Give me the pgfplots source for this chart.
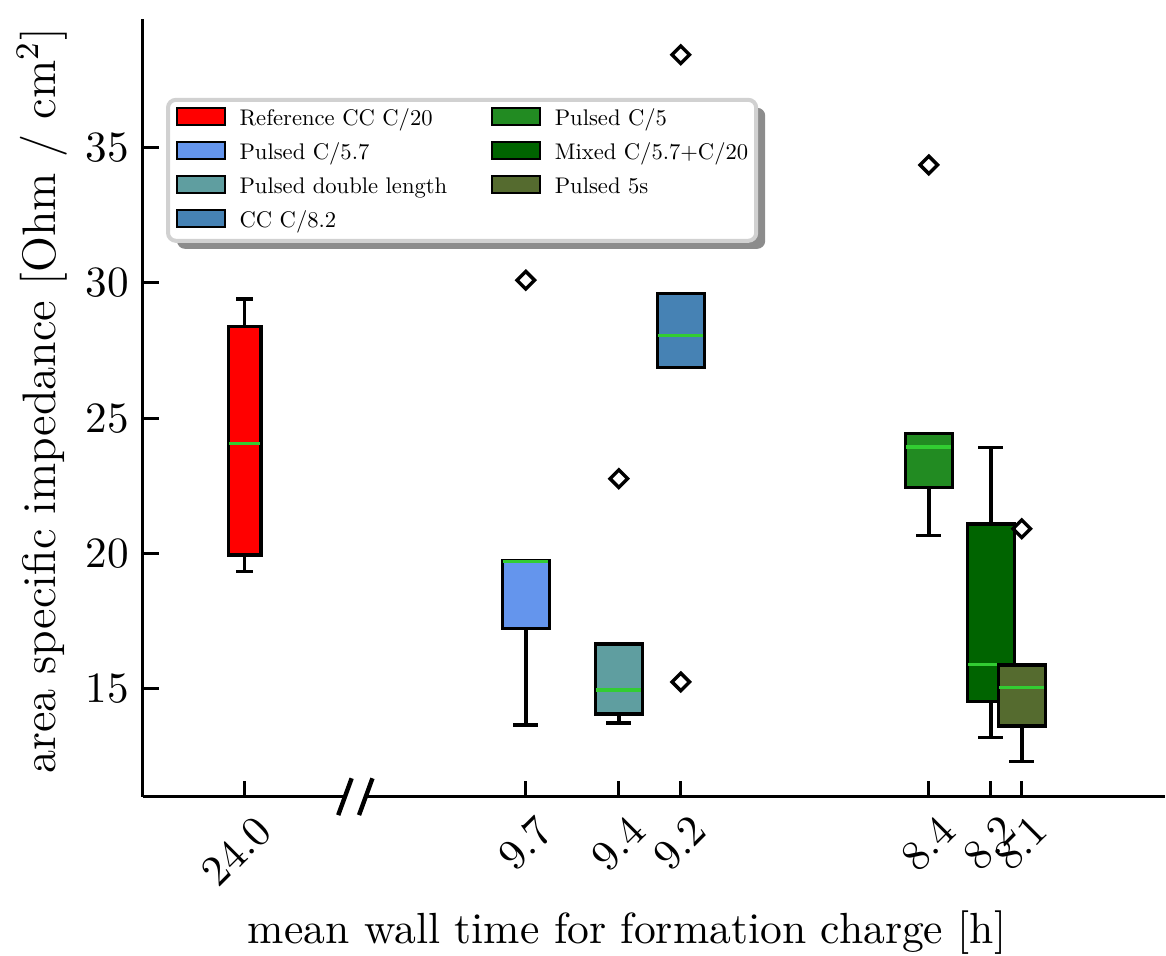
\documentclass[border=0pt]{standalone}
\usepackage{graphicx}
\usepackage{pgfplots}
\pgfplotsset{compat=1.18}
\usetikzlibrary{shadows,calc}
\definecolor{cref}{RGB}{255,0,0}
\definecolor{cpa}{RGB}{100,149,237}
\definecolor{cdbl}{RGB}{95,158,160}
\definecolor{ccc}{RGB}{70,130,180}
\definecolor{cpb}{RGB}{34,139,34}
\definecolor{cmix}{RGB}{0,100,0}
\definecolor{cps}{RGB}{85,107,47}
\definecolor{cmed}{RGB}{50,205,50}
\pgfplotsset{
  whisk/.style={black, line width=0.85pt, forget plot, mark=none},
  boxs/.style={draw=black, fill=#1, line width=0.85pt, forget plot, mark=none},
  med/.style={draw=cmed, line width=0.8pt, forget plot, mark=none},
  outl/.style={only marks, forget plot, mark=square, mark size=1.55pt,
    mark options={rotate=45, draw=black, fill=white, line width=0.85pt, solid}},
  legimg/.style={legend image code/.code={\node[draw=black, fill=#1, line width=0.5pt, sharp corners,
      inner sep=0pt, text height=0pt, text depth=0pt, minimum width=12pt, minimum height=4.15pt,
      anchor=south west] at (0pt,-1.5pt) {};}},
}
\newcommand{\lt}[1]{\scalebox{0.565}{#1}}
\begin{document}
\begin{tikzpicture}
\useasboundingbox (-35.75pt,-39.575pt) rectangle (255.75pt,199.175pt);
\begin{axis}[
  scale only axis, width=255.5pt, height=194.35pt,
  at={(0pt,0pt)}, anchor=south west,
  xmin=-0.935, xmax=2.362, ymin=11.02, ymax=39.74,
  axis x line*=bottom, axis y line*=left,
  axis line style={line width=0.75pt, black},
  tick align=inside, major tick length=4pt,
  tick style={line width=0.75pt, black},
  xtick={-0.607,0.3,0.6,0.8,1.6,1.8,1.9},
  xticklabels={24.0,9.7,9.4,9.2,8.4,8.2,8.1},
  xticklabel style={font=\fontsize{10.8}{13}\selectfont, rotate=45, anchor=north east, xshift=2pt, yshift=-0.8pt},
  ytick={15,20,25,30,35},
  yticklabel style={font=\fontsize{10.8}{13}\selectfont, /pgf/number format/assume math mode=true},
  xlabel={mean wall time for formation charge [h]},
  ylabel={area specific impedance [Ohm / cm\textsuperscript{2}]},
  xlabel style={font=\fontsize{10.9}{13}\selectfont, at={(axis description cs:0.4736,-0.1753)}, anchor=center},
  ylabel style={font=\fontsize{11.75}{14}\selectfont, at={(axis description cs:-0.0988,0.509)}, anchor=center},
  legend columns=2, legend cell align=left,
  legend style={at={(axis description cs:0.0225,0.899)}, anchor=north west,
    draw=black!18, line width=1pt, rounded corners=2pt, fill=white,
    drop shadow={shadow xshift=2.25pt, shadow yshift=-2pt, fill=black!45, opacity=1},
    inner xsep=2pt, inner ysep=1.9pt, row sep=2.55pt,
    nodes={inner xsep=0pt, inner ysep=0pt, text height=4.2pt, text depth=1.4pt},
    /tikz/every odd column/.append style={column sep=3.4pt},
    /tikz/every even column/.append style={column sep=11pt}},
]
% --- Reference CC C/20 (24.0 h)
\addplot[whisk] coordinates {(-0.607,19.95) (-0.607,19.34)};
\addplot[whisk] coordinates {(-0.607,28.39) (-0.607,29.40)};
\addplot[boxs=cref] coordinates {(-0.660,19.95) (-0.554,19.95) (-0.554,28.39) (-0.660,28.39)} -- cycle;
\addplot[med] coordinates {(-0.657,24.08) (-0.557,24.08)};
\addplot[whisk] coordinates {(-0.6345,19.34) (-0.5795,19.34)};
\addplot[whisk] coordinates {(-0.6345,29.40) (-0.5795,29.40)};
% --- Pulsed C/5.7 (9.7 h)
\addplot[whisk] coordinates {(0.3,17.23) (0.3,13.67)};
\addplot[boxs=cpa] coordinates {(0.224,17.23) (0.376,17.23) (0.376,19.75) (0.224,19.75)} -- cycle;
\addplot[med] coordinates {(0.227,19.70) (0.373,19.70)};
\addplot[whisk] coordinates {(0.26,13.67) (0.34,13.67)};
\addplot[outl] coordinates {(0.3,30.10)};
% --- Pulsed double length (9.4 h)
\addplot[whisk] coordinates {(0.6,14.08) (0.6,13.75)};
\addplot[boxs=cdbl] coordinates {(0.524,14.08) (0.676,14.08) (0.676,16.66) (0.524,16.66)} -- cycle;
\addplot[med] coordinates {(0.527,14.96) (0.673,14.96)};
\addplot[whisk] coordinates {(0.56,13.75) (0.64,13.75)};
\addplot[outl] coordinates {(0.6,22.77)};
% --- CC C/8.2 (9.2 h)
\addplot[boxs=ccc] coordinates {(0.724,26.87) (0.876,26.87) (0.876,29.61) (0.724,29.61)} -- cycle;
\addplot[med] coordinates {(0.727,28.05) (0.873,28.05)};
\addplot[outl] coordinates {(0.8,38.43) (0.8,15.26)};
% --- Pulsed C/5 (8.4 h)
\addplot[whisk] coordinates {(1.6,22.45) (1.6,20.68)};
\addplot[boxs=cpb] coordinates {(1.524,22.45) (1.676,22.45) (1.676,24.43) (1.524,24.43)} -- cycle;
\addplot[med] coordinates {(1.527,23.94) (1.673,23.94)};
\addplot[whisk] coordinates {(1.56,20.68) (1.64,20.68)};
\addplot[outl] coordinates {(1.6,34.36)};
% --- Mixed C/5.7+C/20 (8.2 h)
\addplot[whisk] coordinates {(1.8,21.10) (1.8,23.92)};
\addplot[whisk] coordinates {(1.8,14.53) (1.8,13.20)};
\addplot[boxs=cmix] coordinates {(1.724,14.53) (1.876,14.53) (1.876,21.10) (1.724,21.10)} -- cycle;
\addplot[med] coordinates {(1.727,15.89) (1.873,15.89)};
\addplot[whisk] coordinates {(1.76,23.92) (1.84,23.92)};
\addplot[whisk] coordinates {(1.76,13.20) (1.84,13.20)};
% --- Pulsed 5s (8.1 h)
\addplot[whisk] coordinates {(1.9,13.63) (1.9,12.31)};
\addplot[boxs=cps] coordinates {(1.824,13.63) (1.976,13.63) (1.976,15.89) (1.824,15.89)} -- cycle;
\addplot[med] coordinates {(1.827,15.05) (1.973,15.05)};
\addplot[whisk] coordinates {(1.86,12.31) (1.94,12.31)};
\addplot[outl] coordinates {(1.9,20.92)};
\coordinate (brk) at (axis cs:-0.25,11.02);
% legend (row-major order so that it reads column by column)
\addlegendimage{legimg=cref}\addlegendentry{\lt{Reference CC C/20}}
\addlegendimage{legimg=cpb}\addlegendentry{\lt{Pulsed C/5}}
\addlegendimage{legimg=cpa}\addlegendentry{\lt{Pulsed C/5.7}}
\addlegendimage{legimg=cmix}\addlegendentry{\lt{Mixed C/5.7+C/20}}
\addlegendimage{legimg=cdbl}\addlegendentry{\lt{Pulsed double length}}
\addlegendimage{legimg=cps}\addlegendentry{\lt{Pulsed 5s}}
\addlegendimage{legimg=ccc}\addlegendentry{\lt{CC C/8.2}}
\end{axis}
\fill[white] ($(brk)+(-2.6pt,-0.8pt)$) rectangle ($(brk)+(2.6pt,0.8pt)$);
\draw[line width=1.1pt] ($(brk)+(-4.28pt,-4.6pt)$) -- ($(brk)+(-0.92pt,4.6pt)$);
\draw[line width=1.1pt] ($(brk)+(0.92pt,-4.6pt)$) -- ($(brk)+(4.28pt,4.6pt)$);
\end{tikzpicture}
\end{document}
